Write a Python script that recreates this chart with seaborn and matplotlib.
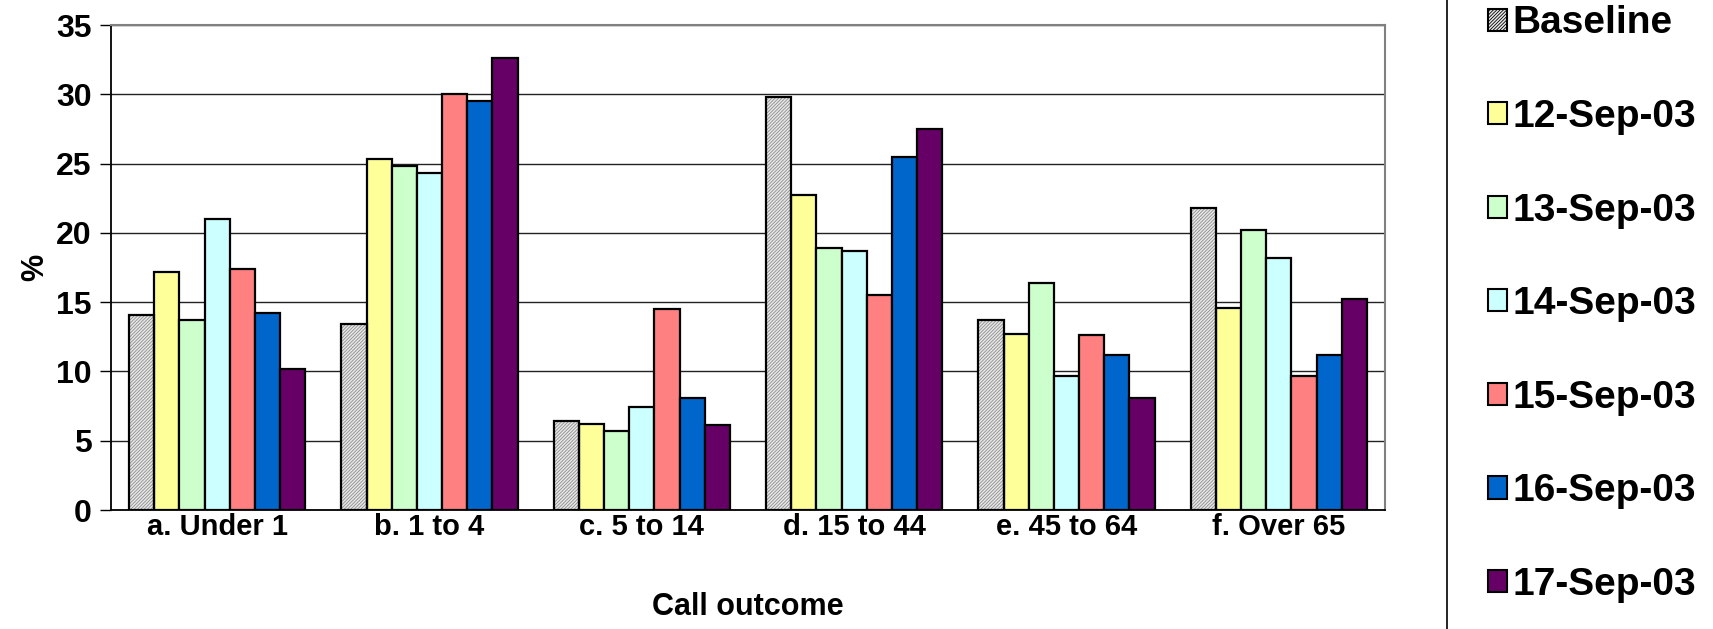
# Age-group breakdown of calls, baseline vs daily counts (Sep 2003)

import matplotlib
matplotlib.use("Agg")
import matplotlib.pyplot as plt
from matplotlib.patches import Patch, Rectangle
from matplotlib.lines import Line2D
import seaborn as sns
import pandas as pd

# ============================================
# DATA
# ============================================

CATEGORIES = ['a. Under 1', 'b. 1 to 4', 'c. 5 to 14', 'd. 15 to 44',
              'e. 45 to 64', 'f. Over 65']
SERIES = ['Baseline', '12-Sep-03', '13-Sep-03', '14-Sep-03',
          '15-Sep-03', '16-Sep-03', '17-Sep-03']

baseline = [14.1, 13.4, 6.4, 29.8, 13.7, 21.8]
sep12 = [17.2, 25.3, 6.2, 22.7, 12.7, 14.6]
sep13 = [13.7, 24.8, 5.7, 18.9, 16.4, 20.2]
sep14 = [21.0, 24.3, 7.4, 18.7, 9.7, 18.2]
sep15 = [17.4, 30.0, 14.5, 15.5, 12.6, 9.7]
sep16 = [14.2, 29.5, 8.1, 25.5, 11.2, 11.2]
sep17 = [10.2, 32.6, 6.1, 27.5, 8.1, 15.2]

Y_TICKS = [0, 5, 10, 15, 20, 25, 30, 35]

# ============================================
# STYLE
# ============================================

COLORS = ['#e8e8e8', '#FFFF99', '#CCFFCC', '#CCFFFF',
          '#FF8080', '#0066CC', '#660066']
HATCH = '//////////'
HATCH_COLOR = '#8c8c8c'

sns.set_style("white")
plt.rcParams.update({
    'font.family': ['Liberation Sans', 'DejaVu Sans'],
    'font.weight': 'bold',
    'text.color': 'black',
    'axes.labelcolor': 'black',
    'xtick.color': 'black',
    'ytick.color': 'black',
    'hatch.linewidth': 0.6,
})

# long-form table for seaborn
values = [baseline, sep12, sep13, sep14, sep15, sep16, sep17]
rows = []
for name, vals in zip(SERIES, values):
    for cat, v in zip(CATEGORIES, vals):
        rows.append({'category': cat, 'series': name, 'value': v})
df = pd.DataFrame(rows)

fig = plt.figure(figsize=(17.13, 6.29), dpi=100)
ax = fig.add_axes([111 / 1713, 1 - 510 / 629, (1385 - 111) / 1713, (510 - 25) / 629])

sns.barplot(data=df, x='category', y='value', hue='series',
            order=CATEGORIES, hue_order=SERIES, palette=COLORS,
            saturation=1, width=0.83, edgecolor='black', linewidth=1.6,
            legend=False, ax=ax, zorder=3)

# hatched baseline bars: hatch drawn in gray, black outline on top
for bar in ax.containers[0]:
    bar.set_hatch(HATCH)
    bar.set_edgecolor(HATCH_COLOR)
    bar.set_linewidth(0)
    ax.add_patch(Rectangle(bar.get_xy(), bar.get_width(), bar.get_height(),
                           fill=False, edgecolor='black', linewidth=1.6, zorder=4))

ax.set_ylim(0, 35)
ax.set_xlim(-0.5, len(CATEGORIES) - 0.5)
ax.set_yticks(Y_TICKS)
ax.set_yticklabels([str(t) for t in Y_TICKS], fontsize=23, fontweight='bold')
ax.yaxis.grid(True, color='#222222', linewidth=1.0, zorder=0)
ax.set_axisbelow(True)

ax.set_xticks(range(len(CATEGORIES)))
ax.set_xticklabels(CATEGORIES, fontsize=21, fontweight='bold')
ax.set_xticks([i - 0.5 for i in range(len(CATEGORIES) + 1)], minor=True)
ax.tick_params(axis='x', which='major', length=0, pad=2)
ax.tick_params(axis='x', which='minor', length=9, width=1, color='black', direction='out')
ax.tick_params(axis='y', which='major', length=8, width=1, color='black',
               direction='out', pad=6, left=True)

for side in ['left', 'bottom']:
    ax.spines[side].set_color('black')
    ax.spines[side].set_linewidth(1.3)
for side in ['top', 'right']:
    ax.spines[side].set_color('#808080')
    ax.spines[side].set_linewidth(1.5)

ax.set_xlabel('Call outcome', fontsize=22, fontweight='bold', labelpad=37)
ax.set_ylabel('%', fontsize=22, fontweight='bold', labelpad=4)

# legend panel at the right
fig.add_artist(Line2D([1447 / 1713] * 2, [0, 1], transform=fig.transFigure,
                      color='black', linewidth=1.2))
handles = []
for name, col in zip(SERIES, COLORS):
    if name == 'Baseline':
        handles.append(Patch(facecolor=col, edgecolor='black', hatch=HATCH, linewidth=1.5))
    else:
        handles.append(Patch(facecolor=col, edgecolor='black', linewidth=1.5))
fig.legend(handles=handles, labels=SERIES, loc='upper left',
           bbox_to_anchor=(1472 / 1713, 1.016), frameon=False,
           prop={'size': 28, 'weight': 'bold'},
           handlelength=0.5, handleheight=0.5, handletextpad=0.15,
           labelspacing=1.48, borderaxespad=0)

fig.savefig('out.png', dpi=100)
